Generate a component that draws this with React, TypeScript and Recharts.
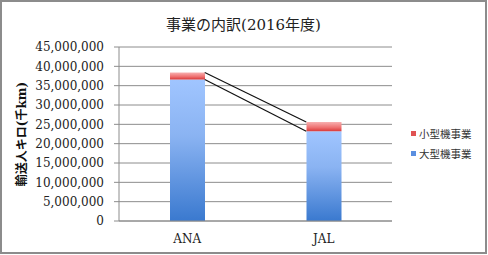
import React from 'react';
import { BarChart, Bar, XAxis, YAxis, CartesianGrid, ReferenceLine } from 'recharts';

const categories = ['ANA', 'JAL'];
const largeValues = [36600000, 23200000];
const smallValues = [1800000, 2400000];
const yTicks = [0, 5000000, 10000000, 15000000, 20000000, 25000000, 30000000, 35000000, 40000000, 45000000];
const largeName = '大型機事業';
const smallName = '小型機事業';
const titleText = '事業の内訳(2016年度)';
const yLabelText = '輸送人キロ(千km)';

const data = categories.map((c, i) => ({ name: c, large: largeValues[i], small: smallValues[i] }));
const totals = categories.map((_, i) => largeValues[i] + smallValues[i]);

const BAR_SIZE = 35;
const SERIF = '"DejaVu Serif", "Liberation Serif", "Noto Sans CJK JP", serif';
const SANS = '"Noto Sans CJK JP", "Noto Sans", sans-serif';
const GRID = '#8c8c8c';
const BLUE_KEY = '#5b8fe0';
const RED_KEY = '#e05252';

const legendItems = [
  { name: smallName, color: RED_KEY },
  { name: largeName, color: BLUE_KEY },
];

const seriesLine = (props: any) => {
  const { x1, y1, x2, y2 } = props;
  const off = BAR_SIZE / 2;
  return <line x1={x1 + off} y1={y1} x2={x2 - off} y2={y2} stroke="#111" strokeWidth={1.2} />;
};

const yLabel = (props: any) => {
  const vb = props.viewBox;
  const cx = vb.x + 22;
  const cy = vb.y + vb.height / 2;
  return (
    <text x={cx} y={cy} transform={`rotate(-90 ${cx} ${cy})`} textAnchor="middle" dominantBaseline="central"
      style={{ fontFamily: SERIF, fontSize: 12, fontWeight: 'bold', fill: '#111' }}>
      {yLabelText}
    </text>
  );
};

export default function App() {
  return (
    <div style={{ position: 'absolute', left: 0, top: 0, width: 487, height: 254, boxSizing: 'border-box', border: '2px solid #8c8c8c', background: '#fff' }}>
      <div style={{ position: 'absolute', left: -2, top: 11, width: 487, textAlign: 'center', fontFamily: SERIF, fontSize: 15, color: '#222' }}>
        {titleText}
      </div>
      <div style={{ position: 'absolute', left: -2, top: -2 }}>
        <BarChart width={487} height={254} data={data} margin={{ top: 47, right: 95, bottom: 0, left: 0 }}>
          <defs>
            <linearGradient id="gBlue" x1="0" y1="0" x2="0" y2="1">
              <stop offset="0%" stopColor="#a0c5ff" />
              <stop offset="40%" stopColor="#8ab3f2" />
              <stop offset="100%" stopColor="#3a79cf" />
            </linearGradient>
            <linearGradient id="gRed" x1="0" y1="0" x2="0" y2="1">
              <stop offset="0%" stopColor="#f8b0b0" />
              <stop offset="60%" stopColor="#ee7070" />
              <stop offset="100%" stopColor="#d93838" />
            </linearGradient>
          </defs>
          <CartesianGrid vertical={false} stroke={GRID} strokeWidth={1} />
          <XAxis dataKey="name" axisLine={{ stroke: GRID }} tickLine={false} tickSize={0} tickMargin={13} height={33}
            tick={{ fontFamily: SERIF, fontSize: 12, fill: '#222' }} />
          <YAxis width={119} domain={[0, 45000000]} ticks={yTicks} interval={0} axisLine={{ stroke: GRID }}
            tickLine={{ stroke: GRID }} tickSize={5} tickMargin={10}
            tickFormatter={(v: number) => v.toLocaleString('en-US')}
            tick={{ fontFamily: SERIF, fontSize: 12, fill: '#222' }}
            label={{ content: yLabel }} />
          <Bar dataKey="large" name={largeName} stackId="a" fill="url(#gBlue)" barSize={BAR_SIZE} isAnimationActive={false} />
          <Bar dataKey="small" name={smallName} stackId="a" fill="url(#gRed)" barSize={BAR_SIZE} isAnimationActive={false} />
          <ReferenceLine segment={[{ x: categories[0], y: totals[0] }, { x: categories[1], y: totals[1] }]} shape={seriesLine} ifOverflow="visible" />
          <ReferenceLine segment={[{ x: categories[0], y: largeValues[0] }, { x: categories[1], y: largeValues[1] }]} shape={seriesLine} ifOverflow="visible" />
        </BarChart>
      </div>
      <div style={{ position: 'absolute', left: 409, top: 121, fontFamily: SANS, fontSize: 10.5, color: '#333' }}>
        {legendItems.map((it) => (
          <div key={it.name} style={{ display: 'flex', alignItems: 'center', height: 20 }}>
            <span style={{ display: 'inline-block', width: 5, height: 5, background: it.color, marginRight: 3 }} />
            <span>{it.name}</span>
          </div>
        ))}
      </div>
    </div>
  );
}
